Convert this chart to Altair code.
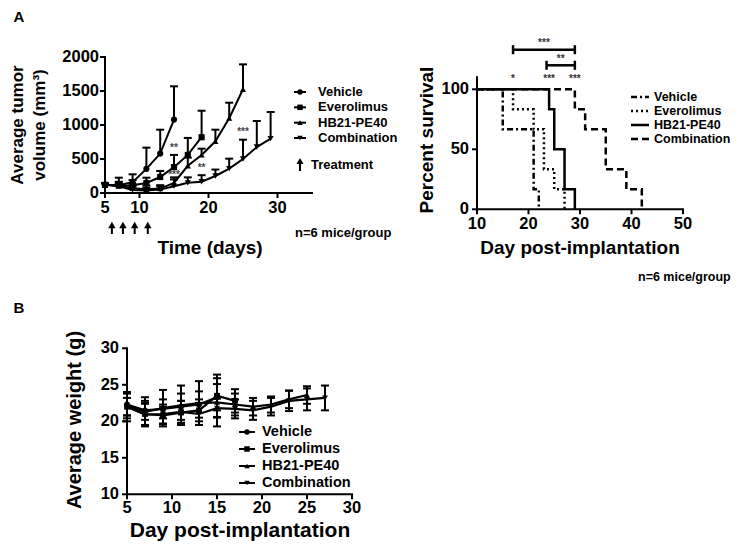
import altair as alt
import pandas as pd

M = 8            # page margin
W, H = 723, 534  # whole drawing area
FONT = "Liberation Sans"

series = ["Vehicle", "Everolimus", "HB21-PE40", "Combination"]
shapes = ["circle", "square", "triangle-up", "triangle-down"]
dashes = [[6, 3, 2, 3], [2, 3], [1, 0], [7, 4]]

# ---------------- Panel A (left): tumour volume, mean and upper SD end ----------------
veh_days = [5, 7, 9, 11, 13, 15]
veh_vol = [120, 115, 160, 355, 580, 1080]
veh_top = [145, 225, 275, 667, 931, 1569]

evr_days = [5, 7, 9, 11, 13, 15, 17, 19]
evr_vol = [120, 110, 115, 147, 235, 380, 560, 820]
evr_top = [145, 165, 190, 225, 324, 560, 810, 1210]

hb_days = [5, 7, 9, 11, 13, 15, 17, 19, 21, 23, 25]
hb_vol = [120, 105, 70, 55, 65, 150, 400, 560, 760, 1100, 1525]
hb_top = [145, 150, 130, 110, 115, 230, 520, 652, 931, 1328, 1892]

cmb_days = [5, 7, 9, 11, 13, 15, 17, 19, 21, 23, 25, 27, 29]
cmb_vol = [120, 100, 45, 35, 50, 100, 150, 165, 250, 358, 500, 676, 799]
cmb_top = [140, 130, 100, 80, 100, 200, 230, 262, 345, 505, 784, 1059, 1191]

treat_days = [6, 7.6, 9.3, 11.2]

sigA_days = [15, 15, 19, 25]
sigA_vals = [665, 265, 365, 900]
sigA_text = ["**", "***", "**", "***"]

A_xticks = [5, 10, 20, 30]
A_yticks = [0, 500, 1000, 1500, 2000]

# ---------------- Panel A (right): survival ----------------
sv_veh_days = [10, 15, 21, 22]
sv_veh_pct = [100, 66.7, 16.7, 0]
sv_evr_days = [10, 17, 21, 23, 25, 27]
sv_evr_pct = [100, 83.3, 66.7, 33.3, 16.7, 0]
sv_hb_days = [10, 24, 25, 27, 29]
sv_hb_pct = [100, 83.3, 50, 16.7, 0]
sv_cmb_days = [10, 29, 31, 35, 39, 42]
sv_cmb_pct = [100, 83.3, 66.7, 33.3, 16.7, 0]

br_start = [17, 23.5]
br_end = [29, 29]
br_y = [133, 120]
br_text = ["***", "**"]
br_text_y = [139, 125]

star_days = [17, 24, 29]
star_y = [108.5, 108.5, 108.5]
star_text = ["*", "***", "***"]

S_xticks = [10, 20, 30, 40, 50]
S_yticks = [0, 50, 100]

# ---------------- Panel B: body weight, mean and SD ----------------
w_veh_days = [5, 7, 9, 11, 13, 15]
w_veh = [22.3, 21.5, 21.7, 22.0, 22.3, 23.3]
w_veh_sd = [1.5, 1.3, 1.3, 1.8, 1.8, 1.8]

w_evr_days = [5, 7, 9, 11, 13, 15, 17]
w_evr = [22.0, 21.0, 20.8, 21.2, 21.5, 23.5, 22.8]
w_evr_sd = [2.0, 1.5, 1.2, 1.6, 1.5, 2.9, 1.6]

w_hb_days = [5, 7, 9, 11, 13, 15, 17, 19, 21, 23, 25]
w_hb = [22.2, 21.3, 21.8, 22.2, 22.5, 22.6, 22.3, 22.0, 22.3, 23.0, 23.6]
w_hb_sd = [1.8, 2.0, 2.5, 2.7, 3.0, 3.3, 1.5, 1.2, 1.1, 1.2, 1.2]

w_cmb_days = [5, 7, 9, 11, 13, 15, 17, 19, 21, 23, 25, 27]
w_cmb = [22.0, 20.9, 21.0, 21.3, 21.0, 21.8, 21.7, 21.5, 22.0, 22.8, 23.0, 23.2]
w_cmb_sd = [1.2, 1.5, 1.3, 1.5, 1.5, 1.3, 1.3, 1.3, 1.2, 1.4, 1.5, 1.7]

B_xticks = [5, 10, 15, 20, 25, 30]
B_yticks = [10, 15, 20, 25, 30]

panel_labels = ["A", "B"]
n_text = "n=6 mice/group"
treat_label = "Treatment"
A_ytitle = ["Average tumor", "volume (mm³)"]
A_xtitle = "Time (days)"
S_ytitle = "Percent survival"
S_xtitle = "Day post-implantation"
B_ytitle = "Average weight (g)"
B_xtitle = "Day post-implantation"


def long_frame(days_l, vals_l, extra_l, extra_name):
    rows = []
    for s, d, v, e in zip(series, days_l, vals_l, extra_l):
        for di, vi, ei in zip(d, v, e):
            rows.append({"series": s, "day": di, "val": vi, extra_name: ei})
    return pd.DataFrame(rows)


dfA = long_frame([veh_days, evr_days, hb_days, cmb_days],
                 [veh_vol, evr_vol, hb_vol, cmb_vol],
                 [veh_top, evr_top, hb_top, cmb_top], "top")
dfS = long_frame([sv_veh_days, sv_evr_days, sv_hb_days, sv_cmb_days],
                 [sv_veh_pct, sv_evr_pct, sv_hb_pct, sv_cmb_pct],
                 [sv_veh_pct, sv_evr_pct, sv_hb_pct, sv_cmb_pct], "dup")
dfB = long_frame([w_veh_days, w_evr_days, w_hb_days, w_cmb_days],
                 [w_veh, w_evr, w_hb, w_cmb],
                 [w_veh_sd, w_evr_sd, w_hb_sd, w_cmb_sd], "sd")
dfB["lo"] = dfB["val"] - dfB["sd"]
dfB["hi"] = dfB["val"] + dfB["sd"]

dfSigA = pd.DataFrame({"day": sigA_days, "val": sigA_vals, "t": sigA_text})
dfTreat = pd.DataFrame({"day": treat_days})
dfBr = pd.DataFrame({"s": br_start, "e": br_end, "y": br_y, "t": br_text, "ty": br_text_y})
dfStar = pd.DataFrame({"day": star_days, "y": star_y, "t": star_text})

shape_enc = alt.Shape("series:N", scale=alt.Scale(domain=series, range=shapes), legend=None)
dash_enc = alt.StrokeDash("series:N", scale=alt.Scale(domain=series, range=dashes), legend=None)


def X(f, s):
    return alt.X(f, scale=s, axis=None)


def Y(f, s):
    return alt.Y(f, scale=s, axis=None)


def axes(xs, ys, xticks, yticks, lsize, ylpad, xlpad):
    """Hand-drawn GraphPad-style axes: domain lines, outward ticks, bold labels."""
    x0, x1 = xs.domain[0], xs.domain[-1]
    y0, y1 = ys.domain[0], ys.domain[-1]
    dom = pd.DataFrame({"xa": [x0, x0], "xb": [x0, x1], "ya": [y0, y0], "yb": [y1, y0]})
    domain = alt.Chart(dom).mark_rule(color="black", strokeWidth=2, strokeCap="square").encode(
        x=X("xa:Q", xs), x2="xb:Q", y=Y("ya:Q", ys), y2="yb:Q")
    ydf = pd.DataFrame({"v": yticks, "a": [x0] * len(yticks)})
    xdf = pd.DataFrame({"v": xticks, "a": [y0] * len(xticks)})
    ytk = alt.Chart(ydf).mark_tick(orient="horizontal", size=5, thickness=2, color="black",
                                   opacity=1, xOffset=-2.5).encode(x=X("a:Q", xs), y=Y("v:Q", ys))
    xtk = alt.Chart(xdf).mark_tick(orient="vertical", size=5, thickness=2, color="black",
                                   opacity=1, yOffset=2.5).encode(x=X("v:Q", xs), y=Y("a:Q", ys))
    ylab = alt.Chart(ydf).mark_text(font=FONT, fontSize=lsize, fontWeight="bold", color="black",
                                    align="right", baseline="middle", dx=-(5 + ylpad)).encode(
        x=X("a:Q", xs), y=Y("v:Q", ys), text=alt.Text("v:Q", format="d"))
    xlab = alt.Chart(xdf).mark_text(font=FONT, fontSize=lsize, fontWeight="bold", color="black",
                                    align="center", baseline="top", dy=5 + xlpad).encode(
        x=X("v:Q", xs), y=Y("a:Q", ys), text=alt.Text("v:Q", format="d"))
    return [domain, ytk, xtk, ylab, xlab]


def label(text, x, y, size, align="left", angle=0, baseline="middle"):
    one = pd.DataFrame({"k": [0]})
    kw = dict(text=text, font=FONT, fontSize=size, fontWeight="bold",
              align=align, baseline=baseline, color="black")
    if angle:
        kw["angle"] = angle
    return alt.Chart(one).mark_text(**kw).encode(x=alt.value(x - M), y=alt.value(y - M))


# ======================= Panel A left =======================
xA = alt.Scale(domain=[5, 35], range=[105 - M, 312 - M], nice=False, zero=False)
yA = alt.Scale(domain=[0, 2000], range=[193 - M, 57 - M], nice=False, zero=False)

baseA = alt.Chart(dfA)
A_lines = baseA.mark_line(color="black", strokeWidth=2).encode(
    x=X("day:Q", xA), y=Y("val:Q", yA), detail="series:N")
A_err = baseA.mark_rule(color="black", strokeWidth=2).encode(
    x=X("day:Q", xA), y=Y("val:Q", yA), y2="top:Q")
A_cap = baseA.mark_tick(orient="horizontal", size=8, thickness=2, color="black", opacity=1).encode(
    x=X("day:Q", xA), y=Y("top:Q", yA))
A_pts = baseA.mark_point(filled=True, size=38, color="black", opacity=1).encode(
    x=X("day:Q", xA), y=Y("val:Q", yA), shape=shape_enc)
A_sig = alt.Chart(dfSigA).mark_text(font=FONT, fontSize=10, fontWeight="bold",
                                    color="#444", baseline="middle").encode(
    x=X("day:Q", xA), y=Y("val:Q", yA), text="t:N")
A_arrow_head = alt.Chart(dfTreat).mark_point(shape="triangle-up", filled=True, size=55,
                                             color="black", opacity=1).encode(
    x=X("day:Q", xA), y=alt.value(225 - M))
A_arrow_stem = alt.Chart(dfTreat).mark_rule(color="black", strokeWidth=2).encode(
    x=X("day:Q", xA), y=alt.value(226 - M), y2=alt.value(234 - M))
panelA = alt.layer(*axes(xA, yA, A_xticks, A_yticks, 16.5, 1, 2),
                   A_lines, A_err, A_cap, A_pts, A_sig, A_arrow_stem, A_arrow_head)

# ======================= Panel A right (survival) =======================
xS = alt.Scale(domain=[10, 50], range=[477 - M, 683 - M], nice=False, zero=False)
yS = alt.Scale(domain=[0, 110], range=[209.3 - M, 77.3 - M], nice=False, zero=False)

S_lines = alt.Chart(dfS).mark_line(interpolate="step-after", color="black",
                                   strokeWidth=2.5).encode(
    x=X("day:Q", xS), y=Y("val:Q", yS), strokeDash=dash_enc)
S_br = alt.Chart(dfBr).mark_rule(color="black", strokeWidth=2.5).encode(
    x=X("s:Q", xS), x2="e:Q", y=Y("y:Q", yS))
S_brcap1 = alt.Chart(dfBr).mark_tick(orient="vertical", size=9, thickness=2.5,
                                     color="black", opacity=1).encode(
    x=X("s:Q", xS), y=Y("y:Q", yS))
S_brcap2 = alt.Chart(dfBr).mark_tick(orient="vertical", size=9, thickness=2.5,
                                     color="black", opacity=1).encode(
    x=X("e:Q", xS), y=Y("y:Q", yS))
S_brtext = alt.Chart(dfBr).transform_calculate(mid="(datum.s + datum.e) / 2").mark_text(
    font=FONT, fontSize=10, fontWeight="bold", color="#333", baseline="middle").encode(
    x=X("mid:Q", xS), y=Y("ty:Q", yS), text="t:N")
S_star = alt.Chart(dfStar).mark_text(font=FONT, fontSize=10, fontWeight="bold",
                                     color="#333", baseline="middle").encode(
    x=X("day:Q", xS), y=Y("y:Q", yS), text="t:N")
panelS = alt.layer(*axes(xS, yS, S_xticks, S_yticks, 16.5, 3, 2),
                   S_lines, S_br, S_brcap1, S_brcap2, S_brtext, S_star)

# ======================= Panel B =======================
xB = alt.Scale(domain=[5, 30], range=[127 - M, 352 - M], nice=False, zero=False)
yB = alt.Scale(domain=[10, 30], range=[494.3 - M, 348.3 - M], nice=False, zero=False)

baseB = alt.Chart(dfB)
B_lines = baseB.mark_line(color="black", strokeWidth=2.2).encode(
    x=X("day:Q", xB), y=Y("val:Q", yB), detail="series:N")
B_err = baseB.mark_rule(color="black", strokeWidth=2).encode(
    x=X("day:Q", xB), y=Y("lo:Q", yB), y2="hi:Q")
B_cap_lo = baseB.mark_tick(orient="horizontal", size=8, thickness=2, color="black", opacity=1).encode(
    x=X("day:Q", xB), y=Y("lo:Q", yB))
B_cap_hi = baseB.mark_tick(orient="horizontal", size=8, thickness=2, color="black", opacity=1).encode(
    x=X("day:Q", xB), y=Y("hi:Q", yB))
B_pts = baseB.mark_point(filled=True, size=34, color="black", opacity=1).encode(
    x=X("day:Q", xB), y=Y("val:Q", yB), shape=shape_enc)
panelB = alt.layer(*axes(xB, yB, B_xticks, B_yticks, 16.5, 3, 1),
                   B_lines, B_err, B_cap_lo, B_cap_hi, B_pts)


# ======================= Legends =======================
def legend(rows_y, x0, x1, xm, xt, fsize, markers, dash, lw):
    df = pd.DataFrame({"series": series, "row": list(range(len(series)))})
    ys = alt.Scale(domain=[0, len(series) - 1], range=[rows_y[0] - M, rows_y[1] - M],
                   nice=False, zero=False)
    y = Y("row:Q", ys)
    enc = dict(x=alt.value(x0 - M), x2=alt.value(x1 - M), y=y)
    if dash:
        enc["strokeDash"] = dash_enc
    line = alt.Chart(df).mark_rule(color="black", strokeWidth=lw).encode(**enc)
    layers = [line]
    if markers:
        layers.append(alt.Chart(df).mark_point(filled=True, size=30, color="black",
                                               opacity=1).encode(
            x=alt.value(xm - M), y=y, shape=shape_enc))
    layers.append(alt.Chart(df).mark_text(font=FONT, fontSize=fsize, fontWeight="bold",
                                          align="left", baseline="middle",
                                          color="black").encode(
        x=alt.value(xt - M), y=y, text="series:N"))
    return alt.layer(*layers)


legA = legend([92, 138], 294, 306, 300, 318, 13, True, False, 2)
legS = legend([97, 139], 631, 649, 0, 654, 12.5, False, True, 2.5)
legB = legend([432, 483], 239, 255, 247, 262, 14.5, True, False, 2)

one = pd.DataFrame({"k": [0]})
treat_head = alt.Chart(one).mark_point(shape="triangle-up", filled=True, size=50,
                                       color="black", opacity=1).encode(
    x=alt.value(300 - M), y=alt.value(161 - M))
treat_stem = alt.Chart(one).mark_rule(color="black", strokeWidth=2).encode(
    x=alt.value(300 - M), y=alt.value(162 - M), y2=alt.value(171 - M))

texts = [
    label(panel_labels[0], 19, M + 2, 15, "center", baseline="top"),
    label(panel_labels[1], 19, 308, 15, "center"),
    label(treat_label, 311, 165, 13),
    label(n_text, 295, 233, 13),
    label(n_text, 638, 277, 12.5),
    label(A_ytitle[0], 18, 125, 17, "center", 270),
    label(A_ytitle[1], 40, 125, 17, "center", 270),
    label(A_xtitle, 210, 248, 19, "center"),
    label(S_ytitle, 427, 140, 19, "center", 270),
    label(S_xtitle, 580, 248, 19, "center"),
    label(B_ytitle, 75, 420, 20, "center", 270),
    label(B_xtitle, 240, 531, 21, "center"),
]

chart = alt.layer(
    panelA, panelS, panelB, legA, legS, legB, treat_stem, treat_head, *texts
).resolve_scale(
    x="independent", y="independent"
).properties(
    width=W, height=H, padding=0,
    autosize=alt.AutoSizeParams(type="none"),
    background="white",
).configure_view(stroke=None)

chart.save("out.html", embed_options={"renderer": "svg", "actions": False})
